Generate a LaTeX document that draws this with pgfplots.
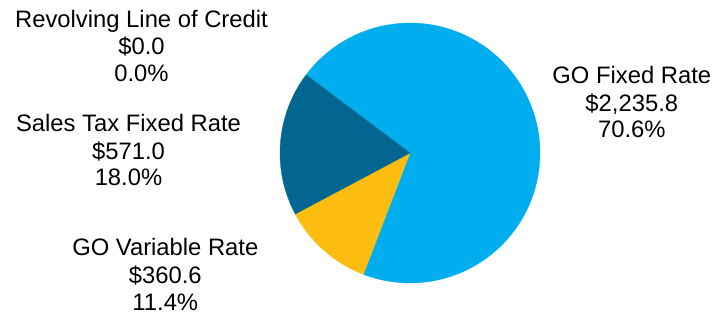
\documentclass[border=0pt]{standalone}
\usepackage{pgfplots}
\usepackage{pgfplotstable}
\usepackage{fontspec}
\setmainfont{Liberation Sans}
\pgfplotsset{compat=1.18}
\definecolor{gofixed}{HTML}{00AEEF}
\definecolor{govar}{HTML}{FDBD10}
\definecolor{salestax}{HTML}{036690}
\definecolor{revolving}{HTML}{7F7F7F}
\pgfplotstableread{
label value
GOFixed 2235.8
GOVariable 360.6
SalesTax 571.0
Revolving 0.0
}\datatable
\begin{document}%
\begin{tikzpicture}
\pgfplotstablegetelem{0}{value}\of\datatable \let\vA\pgfplotsretval
\pgfplotstablegetelem{1}{value}\of\datatable \let\vB\pgfplotsretval
\pgfplotstablegetelem{2}{value}\of\datatable \let\vC\pgfplotsretval
\pgfplotstablegetelem{3}{value}\of\datatable \let\vD\pgfplotsretval
\pgfmathsetmacro{\tot}{\vA+\vB+\vC+\vD}
\pgfmathsetmacro{\aS}{143.1}
\pgfmathsetmacro{\aA}{\aS-360*(\vA/\tot)}
\pgfmathsetmacro{\aB}{\aA-360*(\vB/\tot)}
\pgfmathsetmacro{\aC}{\aB-360*(\vC/\tot)}
\begin{axis}[
  x=1pt, y=1pt, scale only axis,
  xmin=0, xmax=713, ymin=0, ymax=315,
  hide axis, clip=false,
  at={(0pt,0pt)}, anchor=origin,
  xtick=\empty, ytick=\empty,
]
\addplot[fill=gofixed, draw=gofixed, line width=0.3pt, domain=\aA:\aS, samples=150, variable=\t]
  ({410+130*cos(\t)},{162+130*sin(\t)}) -- (axis cs:410,162) -- cycle;
\addplot[fill=govar, draw=govar, line width=0.3pt, domain=\aB:\aA, samples=40, variable=\t]
  ({410+130*cos(\t)},{162+130*sin(\t)}) -- (axis cs:410,162) -- cycle;
\addplot[fill=salestax, draw=salestax, line width=0.3pt, domain=\aC:\aB, samples=60, variable=\t]
  ({410+130*cos(\t)},{162+130*sin(\t)}) -- (axis cs:410,162) -- cycle;
\begin{scope}[every node/.style={anchor=base, font=\fontsize{23.8}{27}\selectfont, text=black, inner sep=0pt}]
\node at (axis cs:141.5,287.3) {Revolving Line of Credit};
\node at (axis cs:141.5,260) {\$0.0};
\node at (axis cs:141.5,233.3) {0.0\%};
\node at (axis cs:128.5,183.3) {Sales Tax Fixed Rate};
\node at (axis cs:128.5,155) {\$571.0};
\node at (axis cs:128.5,129) {18.0\%};
\node at (axis cs:165.3,59) {GO Variable Rate};
\node at (axis cs:165.3,31) {\$360.6};
\node at (axis cs:165.3,4.3) {11.4\%};
\node at (axis cs:631.8,231.7) {GO Fixed Rate};
\node at (axis cs:631.8,203.3) {\$2,235.8};
\node at (axis cs:631.8,177.7) {70.6\%};
\end{scope}
\end{axis}
\pgfresetboundingbox
\useasboundingbox (0pt,0pt) rectangle (713pt,315pt);
\end{tikzpicture}%
\end{document}
